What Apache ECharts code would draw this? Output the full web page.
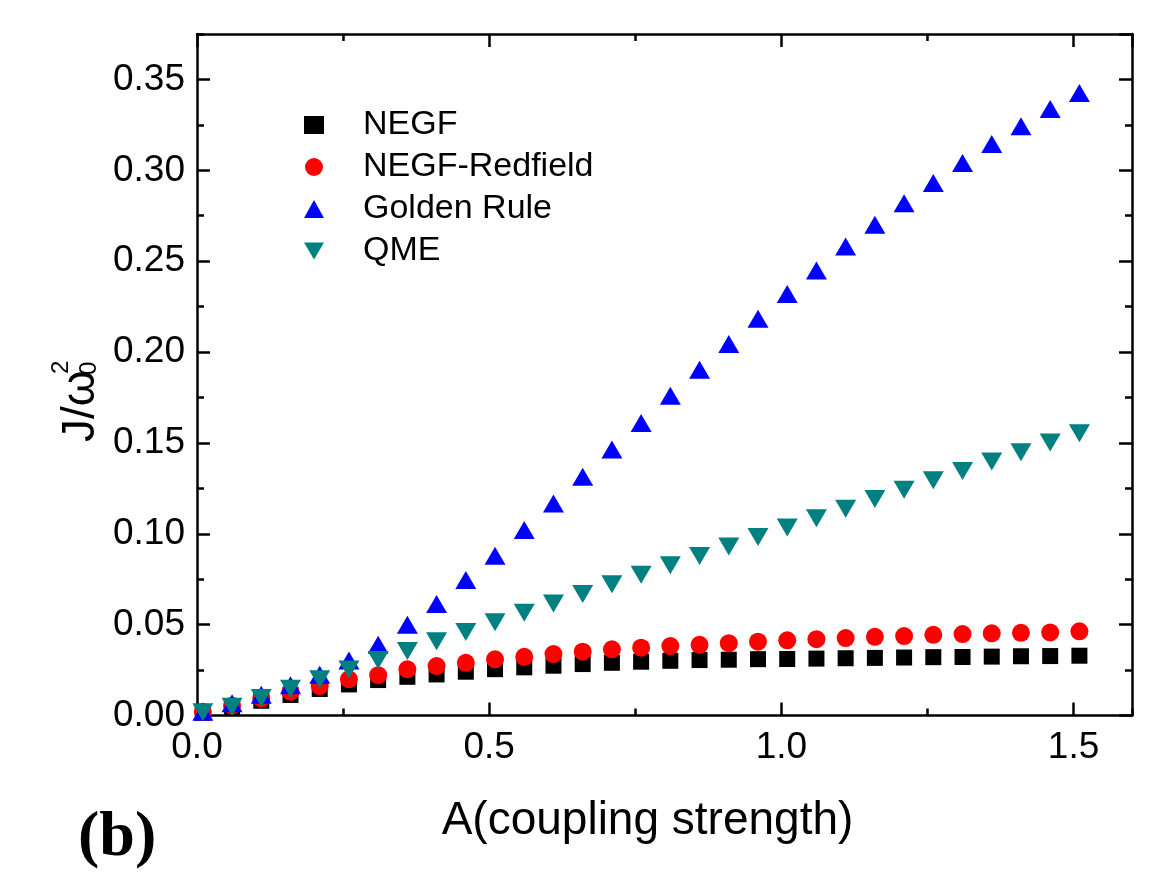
<!DOCTYPE html>
<html><head><meta charset="utf-8">
<script src="https://cdn.jsdelivr.net/npm/echarts@6/dist/echarts.min.js"></script>
<style>html,body{margin:0;padding:0;background:#fff}#c{width:1170px;height:878px}</style>
</head><body><div id="c"></div>
<script>
// ---- data ----
const couplingA = [0.01,0.06,0.11,0.16,0.21,0.26,0.31,0.36,0.41,0.46,
                   0.51,0.56,0.61,0.66,0.71,0.76,0.81,0.86,0.91,0.96,
                   1.01,1.06,1.11,1.16,1.21,1.26,1.31,1.36,1.41,1.46,1.51];
const negf = [0.0015,0.0045,0.0081,0.0113,0.0146,0.0171,0.0195,0.0213,0.0226,0.0241,
              0.0255,0.0265,0.0274,0.0283,0.0290,0.0296,0.0301,0.0305,0.0307,0.0310,
              0.0311,0.0313,0.0315,0.0317,0.0319,0.0321,0.0322,0.0324,0.0326,0.0327,0.0329];
const negfRedfield = [0.0020,0.0054,0.0094,0.0131,0.0162,0.0199,0.0222,0.0254,0.0272,0.0290,
              0.0309,0.0323,0.0338,0.0351,0.0364,0.0373,0.0382,0.0389,0.0398,0.0406,
              0.0414,0.0420,0.0426,0.0433,0.0437,0.0444,0.0448,0.0452,0.0455,0.0457,0.0463];
const goldenRule = [0.0020,0.0068,0.0114,0.0166,0.0224,0.0303,0.0389,0.0499,0.0614,0.0745,
              0.0879,0.1021,0.1166,0.1314,0.1463,0.1610,0.1760,0.1903,0.2044,0.2183,
              0.2320,0.2449,0.2581,0.2701,0.2819,0.2930,0.3040,0.3145,0.3242,0.3337,0.3426];
const qme = [0.0018,0.0048,0.0096,0.0147,0.0200,0.0253,0.0305,0.0355,0.0408,0.0460,
              0.0513,0.0566,0.0616,0.0669,0.0722,0.0775,0.0827,0.0878,0.0930,0.0982,
              0.1034,0.1086,0.1138,0.1191,0.1242,0.1294,0.1345,0.1397,0.1449,0.1502,0.1553];
const seriesNames = ['NEGF','NEGF-Redfield','Golden Rule','QME'];
const xTitle = 'A(coupling strength)';
const panelLabel = '(b)';

// ---- chart ----
const FONT = '"Liberation Sans", Arial, Helvetica, sans-serif';
const chart = echarts.init(document.getElementById('c'), null, {renderer:'canvas'});
const pairs = ys => couplingA.map((x,i)=>[x, ys[i]]);
const LW = 2.5;

function xAx(pos, interval, len, labels, line){
  return {
    type:'value', position:pos, min:0, max:1.6, interval:interval,
    axisLine:{show:line, onZero:false, lineStyle:{color:'#000', width:LW}},
    axisTick:{show:true, inside:true, length:len, lineStyle:{color:'#000', width:LW}},
    axisLabel:{show:labels, showMaxLabel:false, color:'#000', fontSize:37, fontFamily:FONT, margin:14,
               formatter:v=>v.toFixed(1)},
    splitLine:{show:false}
  };
}
function yAx(pos, interval, len, labels, line){
  return {
    type:'value', position:pos, min:0, max:0.375, interval:interval,
    axisLine:{show:line, onZero:false, lineStyle:{color:'#000', width:LW}},
    axisTick:{show:true, inside:true, length:len, lineStyle:{color:'#000', width:LW}},
    axisLabel:{show:labels, showMaxLabel:false, color:'#000', fontSize:37, fontFamily:FONT, margin:12,
               formatter:v=>v.toFixed(2)},
    splitLine:{show:false}
  };
}
const xb = xAx('bottom',0.5,13,true,true);
xb.name = xTitle; xb.nameLocation='middle'; xb.nameGap = 83;
xb.nameTextStyle = {fontSize:46, fontFamily:FONT, color:'#000', padding:[0,34,0,0]};

const option = {
  backgroundColor:'#fff',
  animation:false,
  grid:{left:197, right:38, top:34, bottom:162.5},
  xAxis:[xb, xAx('bottom',0.25,7,false,false), xAx('top',0.5,13,false,true), xAx('top',0.25,7,false,false)],
  yAxis:[yAx('left',0.05,13,true,true), yAx('left',0.025,7,false,false), yAx('right',0.05,13,false,true), yAx('right',0.025,7,false,false)],
  legend:{
    orient:'vertical', left:304, top:108, padding:0, itemGap:8, itemWidth:20, itemHeight:18,
    textStyle:{fontSize:34, fontFamily:FONT, color:'#000', lineHeight:34, padding:[0,0,0,34]},
    data:[
      {name:seriesNames[0], icon:'rect', itemStyle:{color:'#000'}},
      {name:seriesNames[1], icon:'circle'},
      {name:seriesNames[2], icon:'triangle'},
      {name:seriesNames[3], icon:'path://M0,0 L2,0 L1,1.7 Z'}
    ]
  },
  series:[
    {name:seriesNames[0], type:'scatter', data:pairs(negf), symbol:'rect', symbolSize:16, itemStyle:{color:'#000000', opacity:1}},
    {name:seriesNames[1], type:'scatter', data:pairs(negfRedfield), symbol:'circle', symbolSize:18, itemStyle:{color:'#ff0000', opacity:1}},
    {name:seriesNames[2], type:'scatter', data:pairs(goldenRule), symbol:'triangle', symbolSize:[21,18], itemStyle:{color:'#0000ff', opacity:1}},
    {name:seriesNames[3], type:'scatter', data:pairs(qme), symbol:'path://M0,0 L2,0 L1,1.7 Z', symbolSize:[21,18], itemStyle:{color:'#008080', opacity:1}}
  ],
  graphic:[
    {type:'group', x:97, y:442, rotation:Math.PI/2, children:[
      {type:'text', x:0, y:-16, style:{text:'J/ω', font:'46px '+FONT, fill:'#000', verticalAlign:'middle', align:'left'}},
      {type:'text', x:67, y:-8, style:{text:'0', font:'24px '+FONT, fill:'#000', verticalAlign:'middle', align:'left'}},
      {type:'text', x:68, y:-36, style:{text:'2', font:'24px '+FONT, fill:'#000', verticalAlign:'middle', align:'left'}}
    ]},
    {type:'text', left:78, top:806, style:{text:panelLabel, font:'bold 64px "Liberation Serif", "Times New Roman", serif', fill:'#000'}}
  ]
};
chart.setOption(option);
</script></body></html>
